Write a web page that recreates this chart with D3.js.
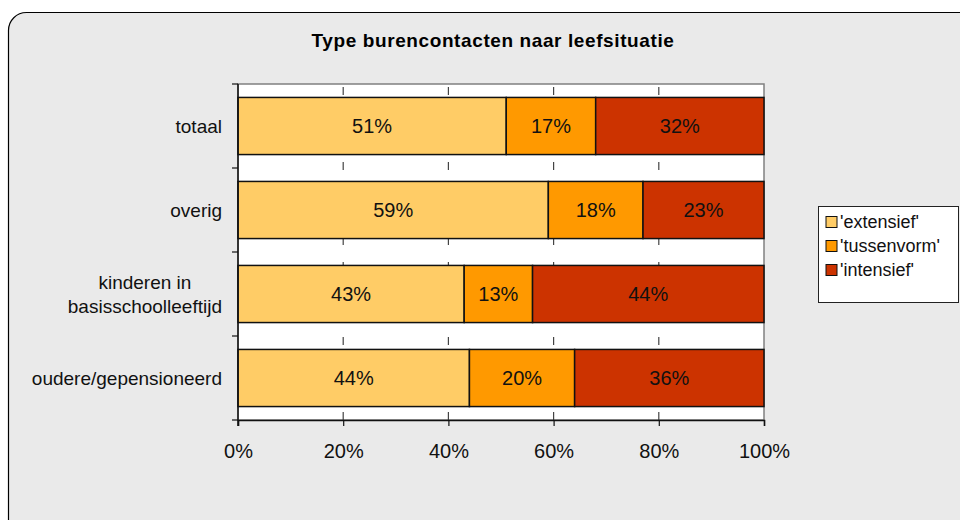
<!DOCTYPE html>
<html>
<head>
<meta charset="utf-8">
<script src="https://cdn.jsdelivr.net/npm/d3@7"></script>
<style>
  body { margin: 0; background: #fff; }
  svg { display: block; font-family: "Liberation Sans", Arial, sans-serif; }
</style>
</head>
<body>
<div id="chart"></div>
<script>
// data
const categories = ["totaal", "overig", "kinderen in\nbasisschoolleeftijd", "oudere/gepensioneerd"];
const seriesNames = ["'extensief'", "'tussenvorm'", "'intensief'"];
const extensief = [51, 59, 43, 44];
const tussenvorm = [17, 18, 13, 20];
const intensief = [32, 23, 44, 36];
const colors = ["#FFCC66", "#FF9900", "#CC3300"];
const tickValues = [0, 0.2, 0.4, 0.6, 0.8, 1];

const W = 960, H = 520;
const margin = { top: 84, left: 238, right: 196, bottom: 100 };
const width = W - margin.left - margin.right;
const height = H - margin.top - margin.bottom;

const svg = d3.select('#chart').append('svg')
  .attr('width', W).attr('height', H);

// background frame
svg.append('rect')
  .attr('x', 8.5).attr('y', 12.5)
  .attr('width', 1000).attr('height', 600)
  .attr('rx', 18).attr('ry', 18)
  .attr('fill', '#EAEAEA').attr('stroke', '#000').attr('stroke-width', 1.2);

svg.append('text')
  .attr('x', 493).attr('y', 47)
  .attr('text-anchor', 'middle')
  .style('font-weight', 'bold').style('font-size', '19px')
  .style('letter-spacing', '0.6px')
  .text('Type burencontacten naar leefsituatie');

const g = svg.append('g').attr('transform', `translate(${margin.left},${margin.top})`);

const rows = categories.map((c, i) => ({
  cat: c,
  vals: [extensief[i], tussenvorm[i], intensief[i]]
}));

const x = d3.scaleLinear().domain([0, 1]).range([0, width]);
const y = d3.scaleBand().domain(categories).range([0, height]).paddingInner(0.32).paddingOuter(0.16);

// plot area
g.append('rect')
  .attr('width', width).attr('height', height)
  .attr('fill', '#fff').attr('stroke', '#808080').attr('stroke-width', 1.5);

// dashed gridlines
g.selectAll('.grid').data(tickValues.slice(1, -1)).enter().append('line')
  .attr('x1', d => x(d)).attr('x2', d => x(d))
  .attr('y1', 0).attr('y2', height)
  .attr('stroke', '#444').attr('stroke-width', 1.2)
  .attr('stroke-dasharray', '8,17').attr('stroke-dashoffset', -3);

// stacked bars
const segs = [];
rows.forEach(r => {
  const tot = d3.sum(r.vals);
  let acc = 0;
  r.vals.forEach((v, k) => {
    segs.push({ cat: r.cat, k, x0: acc / tot, x1: (acc + v) / tot, v });
    acc += v;
  });
});

g.selectAll('.bar').data(segs).enter().append('rect')
  .attr('class', 'bar')
  .attr('x', d => x(d.x0))
  .attr('y', d => y(d.cat))
  .attr('width', d => x(d.x1) - x(d.x0))
  .attr('height', y.bandwidth())
  .attr('fill', d => colors[d.k])
  .attr('stroke', '#111').attr('stroke-width', 1.5);

g.selectAll('.lbl').data(segs).enter().append('text')
  .attr('x', d => (x(d.x0) + x(d.x1)) / 2)
  .attr('y', d => y(d.cat) + y.bandwidth() / 2)
  .attr('dy', '0.36em')
  .attr('text-anchor', 'middle')
  .style('font-size', '20px').attr('fill', '#111')
  .text(d => d.v + '%');

// left axis
const step = height / categories.length;
g.append('line').attr('x1', 0).attr('x2', 0).attr('y1', 0).attr('y2', height + 6)
  .attr('stroke', '#111').attr('stroke-width', 1.5);
g.selectAll('.ytick').data(d3.range(categories.length + 1)).enter().append('line')
  .attr('x1', -6).attr('x2', 0)
  .attr('y1', d => d * step).attr('y2', d => d * step)
  .attr('stroke', '#111').attr('stroke-width', 1.2);

// category labels
categories.forEach(c => {
  const lines = c.split('\n');
  const cy = y(c) + y.bandwidth() / 2;
  const t = g.append('text')
    .style('font-size', '19px').attr('fill', '#111');
  lines.forEach((ln, i) => {
    t.append('tspan').attr('x', -16)
      .attr('y', cy + (i - (lines.length - 1) / 2) * 24)
      .attr('dy', '0.36em')
      .text(ln);
  });
  if (lines.length > 1) {
    const wMax = d3.max(t.selectAll('tspan').nodes(), n => n.getComputedTextLength());
    t.selectAll('tspan').attr('x', -16 - wMax / 2).attr('text-anchor', 'middle');
  } else {
    t.attr('text-anchor', 'end');
  }
});

// bottom axis
const xAxis = g.append('g')
  .attr('transform', `translate(0,${height})`)
  .call(d3.axisBottom(x).tickValues(tickValues).tickFormat(d3.format('.0%')).tickSize(6).tickPadding(18));
xAxis.select('.domain').attr('stroke', '#111').attr('stroke-width', 1.5);
xAxis.selectAll('.tick line').attr('stroke', '#111').attr('stroke-width', 1.2);
xAxis.selectAll('text').style('font-size', '20px').attr('fill', '#111')
  .style('font-family', '"Liberation Sans", Arial, sans-serif');

// legend
const lg = svg.append('g').attr('transform', 'translate(818,206)');
lg.append('rect').attr('x', 0.5).attr('y', 0.5).attr('width', 140).attr('height', 96)
  .attr('fill', '#fff').attr('stroke', '#222').attr('stroke-width', 1);
seriesNames.forEach((s, i) => {
  const yy = 16 + i * 24;
  lg.append('rect').attr('x', 8).attr('y', yy - 5.5).attr('width', 11).attr('height', 11)
    .attr('fill', colors[i]).attr('stroke', '#111').attr('stroke-width', 1);
  lg.append('text').attr('x', 22).attr('y', yy).attr('dy', '0.36em')
    .style('font-size', '18px').attr('fill', '#111').text(s);
});
</script>
</body>
</html>
